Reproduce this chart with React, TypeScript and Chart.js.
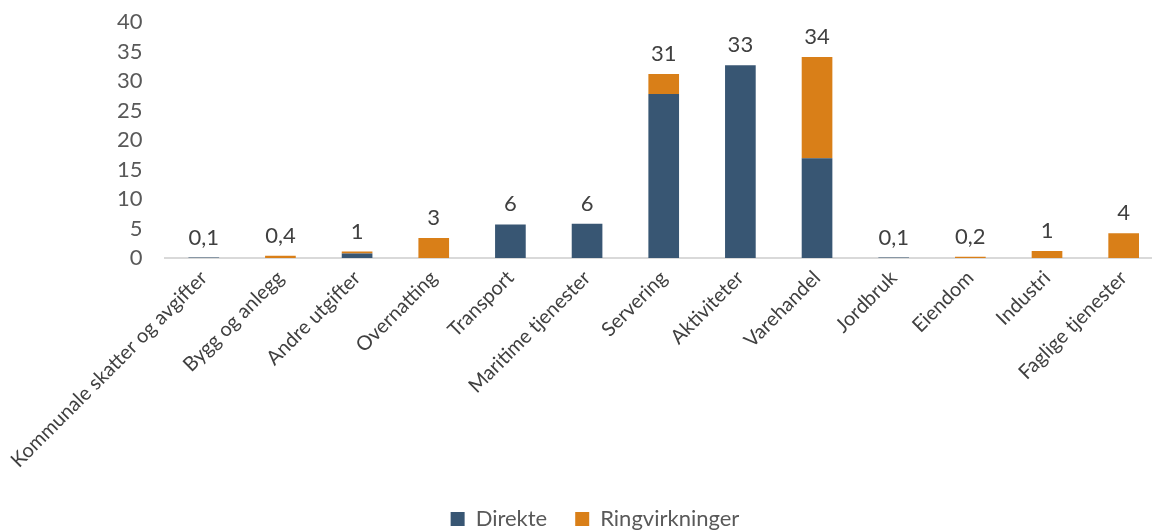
import React, { useEffect, useRef } from "react";
import { Chart, registerables } from "chart.js";

Chart.register(...registerables);

const categories = [
  "Kommunale skatter og avgifter",
  "Bygg og anlegg",
  "Andre utgifter",
  "Overnatting",
  "Transport",
  "Maritime tjenester",
  "Servering",
  "Aktiviteter",
  "Varehandel",
  "Jordbruk",
  "Eiendom",
  "Industri",
  "Faglige tjenester",
];
const direkte = [0.1, 0, 0.75, 0, 5.7, 5.8, 27.8, 32.7, 16.9, 0.1, 0, 0, 0];
const ringvirkninger = [0, 0.4, 0.35, 3.4, 0, 0, 3.4, 0, 17.2, 0, 0.2, 1.2, 4.2];
const totalLabels = ["0,1", "0,4", "1", "3", "6", "6", "31", "33", "34", "0,1", "0,2", "1", "4"];
const yMin = 0;
const yMax = 40;
const yStep = 5;

const FONT = "Lato, 'Noto Sans', sans-serif";

const totalsPlugin = {
  id: "totals",
  afterDatasetsDraw(chart: any) {
    const ctx = chart.ctx;
    const yScale = chart.scales.y;
    const meta = chart.getDatasetMeta(0);
    ctx.save();
    ctx.font = `22px ${FONT}`;
    ctx.fillStyle = "#404040";
    ctx.textAlign = "center";
    ctx.textBaseline = "bottom";
    categories.forEach((_, i) => {
      const total = direkte[i] + ringvirkninger[i];
      const x = meta.data[i].x;
      const y = yScale.getPixelForValue(total);
      ctx.fillText(totalLabels[i], x, y - 9);
    });
    ctx.restore();
  },
};

export default function App() {
  const ref = useRef<HTMLCanvasElement>(null);
  useEffect(() => {
    if (!ref.current) return;
    const chart = new Chart(ref.current, {
      type: "bar",
      data: {
        labels: categories,
        datasets: [
          {
            label: "Direkte",
            data: direkte,
            backgroundColor: "#385673",
            barPercentage: 0.4,
            categoryPercentage: 1,
          },
          {
            label: "Ringvirkninger",
            data: ringvirkninger,
            backgroundColor: "#d97f18",
            barPercentage: 0.4,
            categoryPercentage: 1,
          },
        ],
      },
      options: {
        responsive: false,
        animation: false,
        devicePixelRatio: 1,
        layout: { padding: { top: 0, bottom: 2, left: 28, right: 28 } },
        plugins: {
          legend: {
            position: "bottom",
            labels: {
              boxWidth: 14,
              boxHeight: 14,
              padding: 28,
              color: "#595959",
              font: { size: 22, family: FONT },
            },
          },
          tooltip: { enabled: false },
        },
        scales: {
          x: {
            stacked: true,
            grid: { display: false, drawTicks: false },
            border: { display: true, color: "#d9d9d9", width: 2 },
            ticks: {
              autoSkip: false,
              minRotation: 45,
              maxRotation: 45,
              padding: 8,
              color: "#404040",
              font: { size: 20, family: FONT },
            },
            afterFit(scale: any) {
              scale.height = 222;
            },
          },
          y: {
            stacked: true,
            min: yMin,
            max: yMax,
            grid: { display: false, drawTicks: false },
            border: { display: false },
            ticks: {
              stepSize: yStep,
              autoSkip: false,
              padding: 23,
              color: "#595959",
              font: { size: 22, family: FONT },
            },
            afterFit(scale: any) {
              scale.width = 137;
            },
          },
        },
      },
      plugins: [totalsPlugin],
    });
    return () => chart.destroy();
  }, []);
  return (
    <div
      style={{
        position: "fixed",
        left: 0,
        top: 0,
        width: 1152,
        height: 531,
        overflow: "hidden",
        background: "#fff",
      }}
    >
      <canvas
        ref={ref}
        width={1190}
        height={556}
        style={{ width: 1190, height: 556, display: "block", marginTop: -14 }}
      />
    </div>
  );
}
